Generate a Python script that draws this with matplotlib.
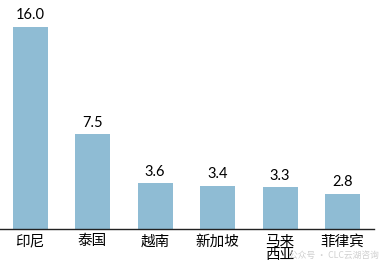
import matplotlib
matplotlib.use("Agg")
import matplotlib.pyplot as plt

# data
countries = ["印尼", "泰国", "越南", "新加坡", "马来\n西亚", "菲律宾"]
values = [16.0, 7.5, 3.6, 3.4, 3.3, 2.8]

bar_color = "#8fbcd4"

fig = plt.figure(figsize=(3.85, 2.69), dpi=100)
ax = fig.add_axes([0.0, 0.149, 0.971, 0.851])

x = range(len(countries))
bars = ax.bar(x, values, width=0.56, color=bar_color)

# value labels above bars
for b, v in zip(bars, values):
    ax.text(b.get_x() + b.get_width() / 2, v + 0.35, f"{v:.1f}",
            ha="center", va="bottom", fontsize=10.5, family="Lato", color="black")

ax.set_xlim(-0.48, 5.5)
ax.set_ylim(0, 18.1)
ax.set_xticks(list(x))
ax.set_xticklabels(countries, family=["Noto Sans CJK SC", "DejaVu Sans"],
                   fontsize=10.5, linespacing=0.95)
ax.tick_params(axis="x", length=0, pad=4)
ax.set_yticks([])
for side in ["top", "right", "left"]:
    ax.spines[side].set_visible(False)
ax.spines["bottom"].set_color("#222222")
ax.spines["bottom"].set_linewidth(1.0)

# faint watermark in the corner
fig.text(0.985, 0.035, "公众号 · CLC云湖咨询", ha="right", va="bottom",
         fontsize=6.3, color="#d0d0d0", family=["Noto Sans CJK SC", "DejaVu Sans"],
         zorder=0)

fig.savefig("out.png", dpi=100)
